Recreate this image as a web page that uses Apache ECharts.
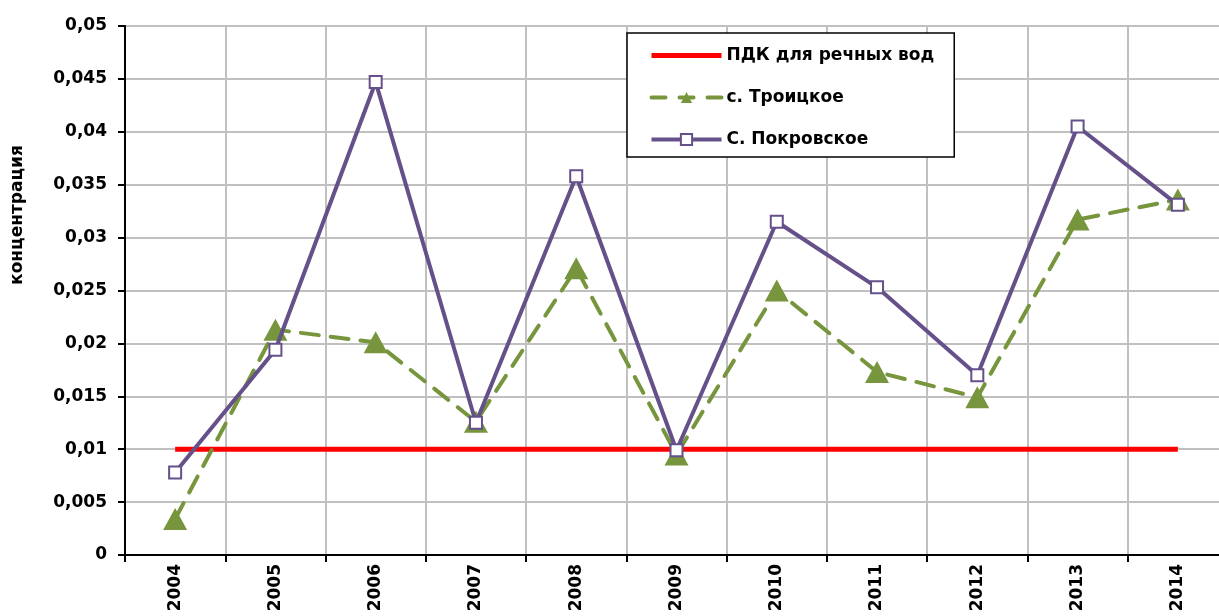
<!DOCTYPE html>
<html><head><meta charset="utf-8">
<script src="https://cdn.jsdelivr.net/npm/echarts@6/dist/echarts.min.js"></script>
<style>html,body{margin:0;padding:0;background:#fff;overflow:hidden;width:1219px;height:616px}#c{width:1240px;height:616px}</style>
</head><body><div id="c"></div>
<script>
const years = ['2004','2005','2006','2007','2008','2009','2010','2011','2012','2013','2014'];
const pdk = [0.01,0.01,0.01,0.01,0.01,0.01,0.01,0.01,0.01,0.01,0.01];
const troitskoe = [0.0034,0.0213,0.0201,0.0126,0.0271,0.0095,0.0250,0.0173,0.0149,0.0317,0.0336];
const pokrovskoe = [0.0078,0.0194,0.0447,0.0125,0.0358,0.0099,0.0315,0.0253,0.0170,0.0405,0.0331];
const seriesNames = ['ПДК для речных вод','с. Троицкое','С. Покровское'];
const yTitle = 'концентрация';

const FONT = 'DejaVu Sans';
const RED = '#ff0000', GREEN = '#77953c', PURPLE = '#65508a';
const chart = echarts.init(document.getElementById('c'));
chart.setOption({
  animation: false,
  backgroundColor: '#fff',
  grid: { left: 125, top: 26, width: 1103, height: 529, containLabel: false },
  legend: {
    orient: 'vertical', left: 627, top: 33,
    data: [
      { name: seriesNames[0], lineStyle: { width: 5, color: RED }, itemStyle: { color: 'rgba(0,0,0,0)', borderWidth: 0 } },
      { name: seriesNames[1], lineStyle: { width: 4, color: GREEN, type: [14, 14] } },
      { name: seriesNames[2], lineStyle: { width: 4, color: PURPLE } }
    ],
    itemWidth: 70, itemHeight: 14, itemGap: 25,
    padding: [14, 20, 9, 22],
    backgroundColor: '#fff', borderColor: '#000', borderWidth: 1.5,
    textStyle: { fontFamily: FONT, fontWeight: 'bold', fontSize: 17, color: '#000' }
  },
  xAxis: {
    type: 'category', data: years, boundaryGap: true,
    axisLine: { lineStyle: { color: '#000', width: 2 } },
    axisTick: { show: true, length: 7, lineStyle: { color: '#000', width: 2 } },
    axisLabel: { rotate: 90, margin: 9, color: '#000', fontFamily: FONT, fontWeight: 'bold', fontSize: 17 },
    splitLine: { show: true, lineStyle: { color: '#c0c0c0', width: 2 } }
  },
  yAxis: {
    type: 'value', min: 0, max: 0.05, interval: 0.005,
    axisLine: { show: true, lineStyle: { color: '#000', width: 2 } },
    axisTick: { show: true, length: 7, lineStyle: { color: '#000', width: 2 } },
    axisLabel: { margin: 18, color: '#000', fontFamily: FONT, fontWeight: 'bold', fontSize: 17,
      formatter: v => String(+v.toFixed(3)).replace('.', ',') },
    splitLine: { show: true, lineStyle: { color: '#c0c0c0', width: 2 } }
  },
  graphic: [{
    type: 'text', x: 18, y: 215, rotation: Math.PI / 2,
    style: { text: yTitle, fontFamily: FONT, fontWeight: 'bold', fontSize: 17, fill: '#000',
      textAlign: 'center', textVerticalAlign: 'middle' }
  }],
  series: [
    { name: seriesNames[0], type: 'line', data: pdk, symbol: 'none', z: 2,
      lineStyle: { color: RED, width: 5 }, itemStyle: { color: RED } },
    { name: seriesNames[1], type: 'line', data: troitskoe, z: 3,
      symbol: 'triangle', symbolSize: [24, 22],
      lineStyle: { color: GREEN, width: 4, type: [18, 12], cap: 'round' },
      itemStyle: { color: GREEN, borderWidth: 0 } },
    { name: seriesNames[2], type: 'line', data: pokrovskoe, z: 4,
      symbol: 'rect', symbolSize: 12,
      lineStyle: { color: PURPLE, width: 4 },
      itemStyle: { color: '#fff', borderColor: PURPLE, borderWidth: 2 } }
  ]
});
</script></body></html>
